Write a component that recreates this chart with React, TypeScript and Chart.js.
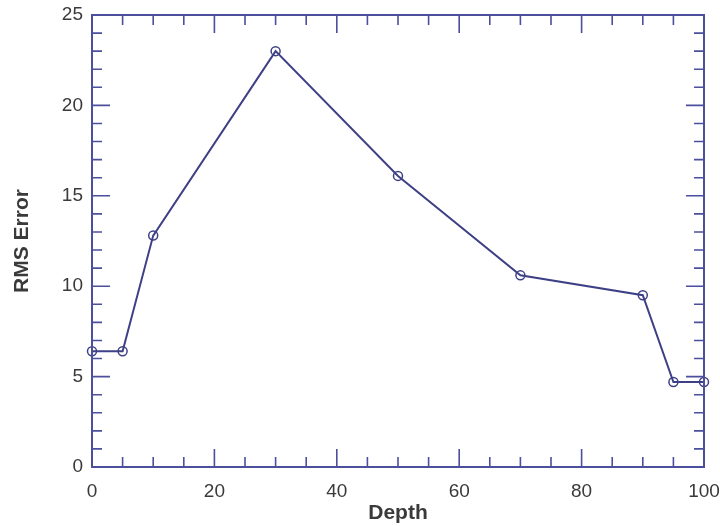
import React, { useEffect, useRef } from "react";
import { Chart, registerables } from "chart.js";

Chart.register(...registerables);

const depths = [0, 5, 10, 30, 50, 70, 90, 95, 100];
const rmsError = [6.4, 6.4, 12.8, 23.0, 16.1, 10.6, 9.5, 4.7, 4.7];

const xMajorTicks = [0, 20, 40, 60, 80, 100];
const xMinorStep = 5;
const yMajorTicks = [0, 5, 10, 15, 20, 25];
const yMinorStep = 1;

const AXIS_COLOR = "#4b4f9c";
const LINE_COLOR = "#3e4086";
const TEXT_COLOR = "#3a3a3a";

const frameTicks = {
  id: "frameTicks",
  afterDraw(chart: any) {
    const { ctx, chartArea } = chart;
    const xs = chart.scales.x;
    const ys = chart.scales.y;
    const { left, right, top, bottom } = chartArea;
    ctx.save();
    ctx.strokeStyle = AXIS_COLOR;
    ctx.lineWidth = 2;
    ctx.beginPath();
    ctx.rect(left, top, right - left, bottom - top);
    ctx.stroke();
    ctx.lineWidth = 1.6;
    const majorLen = 18;
    const minorLen = 10;
    for (let v = xs.min; v <= xs.max + 1e-9; v += xMinorStep) {
      const isMajor = xMajorTicks.some((m) => Math.abs(m - v) < 1e-9);
      const len = isMajor ? majorLen : minorLen;
      const px = xs.getPixelForValue(v);
      ctx.beginPath();
      ctx.moveTo(px, bottom);
      ctx.lineTo(px, bottom - len);
      ctx.moveTo(px, top);
      ctx.lineTo(px, top + len);
      ctx.stroke();
    }
    for (let v = ys.min; v <= ys.max + 1e-9; v += yMinorStep) {
      const isMajor = yMajorTicks.some((m) => Math.abs(m - v) < 1e-9);
      const len = isMajor ? majorLen : minorLen;
      const py = ys.getPixelForValue(v);
      ctx.beginPath();
      ctx.moveTo(left, py);
      ctx.lineTo(left + len, py);
      ctx.moveTo(right, py);
      ctx.lineTo(right - len, py);
      ctx.stroke();
    }
    ctx.restore();
  },
};

export default function App() {
  const ref = useRef<HTMLCanvasElement | null>(null);
  useEffect(() => {
    if (!ref.current) return;
    const chart = new Chart(ref.current, {
      type: "line",
      data: {
        datasets: [
          {
            data: depths.map((d, i) => ({ x: d, y: rmsError[i] })),
            borderColor: LINE_COLOR,
            borderWidth: 2,
            pointStyle: "circle",
            pointRadius: 4.5,
            pointBorderWidth: 1.5,
            pointBorderColor: LINE_COLOR,
            pointBackgroundColor: "rgba(255,255,255,0)",
            tension: 0,
            fill: false,
            clip: false,
          },
        ],
      },
      plugins: [frameTicks],
      options: {
        animation: false,
        responsive: true,
        maintainAspectRatio: false,
        layout: { padding: { top: 15, right: 16, left: 0, bottom: 0 } },
        plugins: { legend: { display: false }, tooltip: { enabled: false } },
        scales: {
          x: {
            type: "linear",
            min: 0,
            max: 100,
            afterBuildTicks: (s: any) => {
              s.ticks = xMajorTicks.map((v) => ({ value: v }));
            },
            afterFit: (s: any) => {
              s.height = 59;
              s.paddingLeft = 0;
              s.paddingRight = 0;
            },
            grid: { display: false, drawTicks: false },
            border: { display: false },
            ticks: {
              color: TEXT_COLOR,
              font: { family: "Liberation Sans, Arial, sans-serif", size: 19 },
              padding: 13,
              maxRotation: 0,
            },
            title: {
              display: true,
              text: "Depth",
              color: TEXT_COLOR,
              font: { family: "Liberation Sans, Arial, sans-serif", size: 21, weight: "bold" },
              padding: { top: 0, bottom: 0 },
            },
          },
          y: {
            type: "linear",
            min: 0,
            max: 25,
            afterBuildTicks: (s: any) => {
              s.ticks = yMajorTicks.map((v) => ({ value: v }));
            },
            afterFit: (s: any) => {
              s.width = 92;
              s.paddingTop = 0;
              s.paddingBottom = 0;
            },
            grid: { display: false, drawTicks: false },
            border: { display: false },
            ticks: {
              color: TEXT_COLOR,
              font: { family: "Liberation Sans, Arial, sans-serif", size: 19 },
              padding: 9,
            },
            title: {
              display: true,
              text: "RMS Error",
              color: TEXT_COLOR,
              font: { family: "Liberation Sans, Arial, sans-serif", size: 21, weight: "bold" },
              padding: { top: 10, bottom: 8 },
            },
          },
        },
      },
    });
    return () => chart.destroy();
  }, []);
  return (
    <div style={{ position: "fixed", left: 0, top: 0, width: 720, height: 526, background: "#fff" }}>
      <canvas ref={ref} />
    </div>
  );
}
